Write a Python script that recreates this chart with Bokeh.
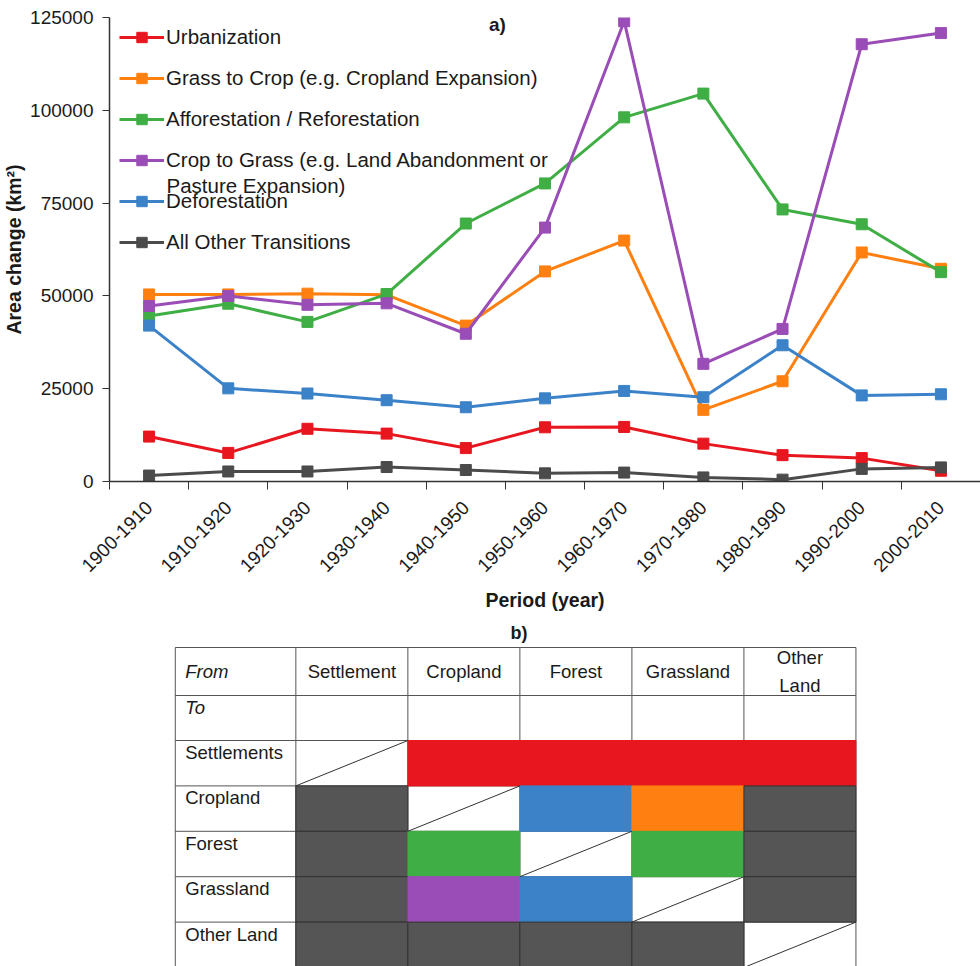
import numpy as np
from bokeh.plotting import figure
from bokeh.models import (Range1d, FixedTicker, BasicTickFormatter, Legend, LegendItem,
                          Label, ColumnDataSource)
from bokeh.layouts import column
from bokeh.embed import file_html
from bokeh.resources import INLINE
from bokeh.core.properties import value

# ---------------- data ----------------
categories = ["1900-1910", "1910-1920", "1920-1930", "1930-1940", "1940-1950", "1950-1960",
              "1960-1970", "1970-1980", "1980-1990", "1990-2000", "2000-2010"]
urbanization = [12100, 7700, 14200, 12900, 9000, 14600, 14700, 10200, 7100, 6300, 2900]
grass_to_crop = [50400, 50400, 50600, 50300, 42000, 56600, 64900, 19300, 27000, 61700, 57300]
afforestation = [44600, 47900, 43000, 50500, 69500, 80300, 98100, 104500, 73300, 69300, 56400]
crop_to_grass = [47300, 50000, 47600, 48000, 39800, 68400, 124000, 31700, 41100, 117800, 120800]
deforestation = [42000, 25100, 23700, 21900, 20000, 22400, 24400, 22700, 36700, 23200, 23500]
other_transitions = [1600, 2700, 2700, 3900, 3100, 2200, 2400, 1100, 500, 3400, 3800]

series_names = ["Urbanization", "Grass to Crop (e.g. Cropland Expansion)",
                "Afforestation / Reforestation", "Crop to Grass (e.g. Land Abandonment or",
                "Deforestation", "All Other Transitions"]
series_keys = ["urban", "grass_crop", "affor", "crop_grass", "defor", "other"]
series_values = [urbanization, grass_to_crop, afforestation, crop_to_grass, deforestation,
                 other_transitions]
y_ticks = [0, 25000, 50000, 75000, 100000, 125000]

from_classes = ["Settlement", "Cropland", "Forest", "Grassland", "Other\nLand"]
to_classes = ["Settlements", "Cropland", "Forest", "Grassland", "Other Land"]
transition_matrix = [
    ["diag", "urban", "urban", "urban", "urban"],
    ["other", "diag", "defor", "grass_crop", "other"],
    ["other", "affor", "diag", "affor", "other"],
    ["other", "crop_grass", "defor", "diag", "other"],
    ["other", "other", "other", "other", "diag"],
]

# ---------------- styles ----------------
colors = {"urban": "#E8161E", "grass_crop": "#FF8010", "affor": "#3FAE44",
          "crop_grass": "#9A4DB6", "defor": "#3B82C8", "other": "#4B4B4B"}
cell_colors = dict(colors, other="#555555")
FONT = "Liberation Sans"
TXT = "#1a1a1a"

# ---------------- chart a) ----------------
p = figure(width=980, height=620, output_backend="svg", toolbar_location=None,
           x_range=Range1d(0, len(categories)), y_range=Range1d(0, 125000),
           min_border_top=17, min_border_left=106, min_border_right=0, min_border_bottom=139)
p.outline_line_color = None
p.xgrid.visible = False
p.ygrid.visible = False

xs = np.arange(len(categories)) + 0.5
items = []
for name, key, vals in zip(series_names, series_keys, series_values):
    src = ColumnDataSource(dict(x=xs, y=vals))
    ln = p.line("x", "y", source=src, line_color=colors[key], line_width=3)
    sc = p.scatter("x", "y", source=src, marker="square", size=11,
                   fill_color=colors[key], line_color=colors[key])
    items.append(LegendItem(label=name, renderers=[ln, sc]))

legend = Legend(items=items, location=(10, 226), orientation="vertical",
                background_fill_alpha=0, border_line_color=None,
                label_text_font=FONT, label_text_font_size="20.5px", label_text_color=TXT,
                glyph_width=45, glyph_height=26, label_height=26, spacing=15,
                padding=0, margin=0, label_standoff=2)
p.add_layout(legend, "center")

p.add_layout(Label(x=57, y=296, x_units="screen", y_units="screen", text="Pasture Expansion)",
                   text_font=FONT, text_font_size="20.5px", text_color=TXT,
                   text_baseline="middle", text_align="left"))
p.add_layout(Label(x=388, y=457, x_units="screen", y_units="screen", text="a)",
                   text_font=FONT, text_font_size="19px", text_font_style="bold",
                   text_color=TXT, text_baseline="middle", text_align="center"))

xa = p.xaxis[0]
xa.ticker = FixedTicker(ticks=[float(v) for v in xs],
                        minor_ticks=[float(v) for v in range(len(categories) + 1)])
xa.major_label_overrides = {float(x): c for x, c in zip(xs, categories)}
xa.major_label_orientation = np.pi / 4
xa.major_tick_out = 0
xa.major_tick_in = 0
xa.minor_tick_out = 8
xa.minor_tick_in = 0
xa.minor_tick_line_color = "#333333"
xa.axis_line_color = "#333333"
xa.axis_line_width = 1.5
xa.major_label_standoff = 15
xa.major_label_text_font = FONT
xa.major_label_text_font_size = "19px"
xa.major_label_text_color = TXT
xa.axis_label = "Period (year)"
xa.axis_label_text_font = FONT
xa.axis_label_text_font_size = "19.5px"
xa.axis_label_text_font_style = "bold"
xa.axis_label_text_color = TXT
xa.axis_label_standoff = 8

ya = p.yaxis[0]
ya.ticker = FixedTicker(ticks=y_ticks, minor_ticks=[])
ya.formatter = BasicTickFormatter(use_scientific=False)
ya.major_tick_out = 7
ya.major_tick_in = 0
ya.minor_tick_out = 0
ya.minor_tick_in = 0
ya.major_tick_line_color = "#333333"
ya.axis_line_color = "#333333"
ya.axis_line_width = 1.5
ya.major_label_standoff = 9
ya.major_label_text_font = FONT
ya.major_label_text_font_size = "19px"
ya.major_label_text_color = TXT
ya.axis_label = "Area change (km²)"
ya.axis_label_text_font = FONT
ya.axis_label_text_font_size = "19.5px"
ya.axis_label_text_font_style = "bold"
ya.axis_label_text_color = TXT
ya.axis_label_standoff = 2

# ---------------- table b) ----------------
t = figure(width=980, height=346, output_backend="svg", toolbar_location=None,
           x_range=Range1d(106, 980), y_range=Range1d(966, 620),
           min_border_left=106, min_border_right=0, min_border_top=0, min_border_bottom=0,
           x_axis_type=None, y_axis_type=None)
t.outline_line_color = None
t.xgrid.visible = False
t.ygrid.visible = False

table_left, first_w, col_w = 172, 121, 112.4
table_top, head_h, to_h, row_h = 647, 48, 45, 45.4
col_edges = [table_left, table_left + first_w] + [table_left + first_w + col_w * (i + 1)
                                                  for i in range(len(from_classes))]
row_edges = [table_top, table_top + head_h, table_top + head_h + to_h] + \
            [table_top + head_h + to_h + row_h * (i + 1) for i in range(len(to_classes))]

# grid lines
t.segment(x0=[col_edges[0]] * len(row_edges), x1=[col_edges[-1]] * len(row_edges),
          y0=row_edges, y1=row_edges, line_color="#555555", line_width=1)
t.segment(x0=col_edges, x1=col_edges, y0=[row_edges[0]] * len(col_edges),
          y1=[row_edges[-1]] * len(col_edges), line_color="#555555", line_width=1)

cl, cr, ct, cb, cf, cln = [], [], [], [], [], []
dx0, dx1, dy0, dy1 = [], [], [], []
for r, row in enumerate(transition_matrix):
    for c, code in enumerate(row):
        left, right = col_edges[c + 1], col_edges[c + 2]
        top, bottom = row_edges[r + 2], row_edges[r + 3]
        if code == "diag":
            dx0.append(left); dx1.append(right); dy0.append(bottom); dy1.append(top)
        else:
            cl.append(left); cr.append(right); ct.append(top); cb.append(bottom)
            cf.append(cell_colors[code])
            cln.append("#333333" if code == "other" else cell_colors[code])
t.quad(left=cl, right=cr, top=ct, bottom=cb, fill_color=cf, line_color=cln, line_width=1)
t.segment(x0=dx0, x1=dx1, y0=dy0, y1=dy1, line_color="#333333", line_width=1)

# texts
TFS = "18.5px"
head_y = (row_edges[0] + row_edges[1]) / 2
t.text(x=[table_left + 10], y=[head_y], text=["From"], text_font=value(FONT),
       text_font_size=TFS, text_font_style="italic", text_color=TXT,
       text_align="left", text_baseline="middle")
t.text(x=[table_left + 10], y=[row_edges[1] + 12], text=["To"], text_font=value(FONT),
       text_font_size=TFS, text_font_style="italic", text_color=TXT,
       text_align="left", text_baseline="middle")
t.text(x=[(col_edges[i + 1] + col_edges[i + 2]) / 2 for i in range(len(from_classes))],
       y=[head_y] * len(from_classes), text=from_classes, text_font=value(FONT),
       text_font_size=TFS, text_color=TXT, text_align="center", text_baseline="middle",
       text_line_height=1.3)
t.text(x=[table_left + 10] * len(to_classes),
       y=[row_edges[i + 2] + 12 for i in range(len(to_classes))], text=to_classes,
       text_font=value(FONT), text_font_size=TFS, text_color=TXT,
       text_align="left", text_baseline="middle")
t.text(x=[517], y=[632], text=["b)"], text_font=value(FONT), text_font_size="18px",
       text_font_style="bold", text_color=TXT, text_align="center", text_baseline="middle")

layout = column(p, t, spacing=0)
open("out.html", "w").write(file_html(layout, INLINE))
